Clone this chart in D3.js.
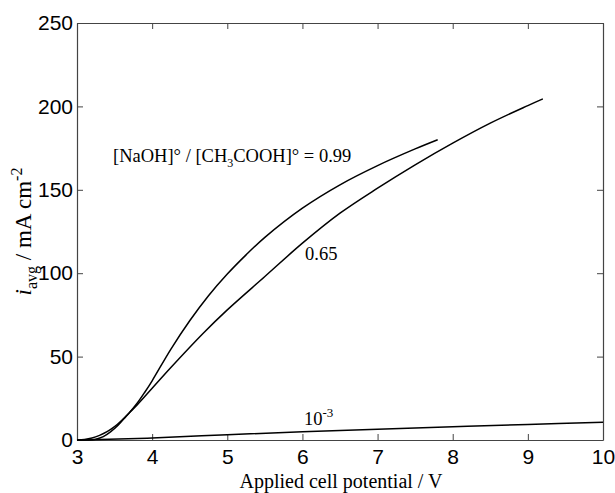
<!DOCTYPE html>
<html>
<head>
<meta charset="utf-8">
<script src="https://cdn.jsdelivr.net/npm/d3@7"></script>
<style>
  body { margin: 0; background: #fff; }
  svg { display: block; }
</style>
</head>
<body>
<svg id="chart" width="615" height="493"></svg>
<script>
// ratio 0.99
const v099 = [3.0, 3.15, 3.25, 3.35, 3.45, 3.55, 3.65, 3.7, 3.8, 3.9, 4.0, 4.25, 4.5, 4.75, 5.0, 5.25, 5.5, 6.0, 6.5, 7.0, 7.5, 7.8];
const i099 = [0, 0, 0.5, 2, 5, 9, 14, 16.5, 22, 28.5, 35.5, 54.5, 71.5, 86.5, 99.5, 111, 121.5, 139, 153, 164.5, 174.5, 180];

// ratio 0.65
const v065 = [3.0, 3.1, 3.2, 3.3, 3.4, 3.5, 3.6, 3.7, 3.8, 4.0, 4.24, 4.68, 5.0, 5.5, 6.0, 6.5, 7.0, 7.5, 8.0, 8.5, 9.0, 9.2];
const i065 = [0, 0.3, 1.2, 2.8, 5, 8, 12, 16.5, 21, 31, 43, 64, 78, 98, 118, 136, 151, 165, 178, 190, 200.5, 204.5];

// ratio 1e-3
const v1e3 = [3.0, 3.3, 4.0, 5.0, 6.0, 7.0, 8.0, 9.0, 10.0];
const i1e3 = [0, 0.3, 1.2, 3.2, 4.9, 6.4, 7.9, 9.3, 10.7];

const xTicks = [3, 4, 5, 6, 7, 8, 9, 10];
const yTicks = [0, 50, 100, 150, 200, 250];

const svg = d3.select("#chart");
const m = { left: 77, right: 603, top: 23, bottom: 440 };

const x = d3.scaleLinear().domain([3, 10]).range([m.left, m.right]);
const y = d3.scaleLinear().domain([0, 250]).range([m.bottom, m.top]);

const tickFont = "'Liberation Sans', Arial, sans-serif";
const serif = "'Liberation Serif', 'Times New Roman', serif";

// axes, ticks point inward on all four sides
const axB = svg.append("g").attr("transform", `translate(0,${m.bottom})`)
  .call(d3.axisBottom(x).tickValues(xTicks).tickFormat(d3.format("d")).tickSize(-6).tickPadding(9).tickSizeOuter(0));
const axT = svg.append("g").attr("transform", `translate(0,${m.top})`)
  .call(d3.axisTop(x).tickValues(xTicks).tickSize(-6).tickFormat("").tickSizeOuter(0));
const axL = svg.append("g").attr("transform", `translate(${m.left},0)`)
  .call(d3.axisLeft(y).tickValues(yTicks).tickSize(-6).tickPadding(4).tickSizeOuter(0));
const axR = svg.append("g").attr("transform", `translate(${m.right},0)`)
  .call(d3.axisRight(y).tickValues(yTicks).tickSize(-6).tickFormat("").tickSizeOuter(0));

[axB, axT, axL, axR].forEach(a => {
  a.selectAll(".domain").attr("stroke", "#444").attr("stroke-width", 1.2);
  a.selectAll(".tick line").attr("stroke", "#444").attr("stroke-width", 1);
  a.selectAll(".tick text").attr("fill", "#000").style("font-family", tickFont).style("font-size", "21px");
});

// curves
const line = d3.line().x(d => x(d[0])).y(d => y(d[1])).curve(d3.curveCatmullRom.alpha(0.5));
const series = [
  d3.zip(v099, i099),
  d3.zip(v065, i065),
  d3.zip(v1e3, i1e3)
];
svg.append("g").selectAll("path")
  .data(series)
  .join("path")
  .attr("d", line)
  .attr("fill", "none")
  .attr("stroke", "#000")
  .attr("stroke-width", 1.5);

// curve labels
const lab = svg.append("g").style("font-family", serif).style("font-size", "18.5px").attr("fill", "#000");
const t1 = lab.append("text").attr("x", 113).attr("y", 162);
t1.append("tspan").text("[NaOH]° / [CH");
t1.append("tspan").attr("dy", 5).style("font-size", "12px").text("3");
t1.append("tspan").attr("dy", -5).text("COOH]° = 0.99");

lab.append("text").attr("x", 305).attr("y", 260).text("0.65");

const t3 = lab.append("text").attr("x", 304).attr("y", 425);
t3.append("tspan").text("10");
t3.append("tspan").attr("dy", -8).style("font-size", "13px").text("-3");

// axis titles
svg.append("text")
  .attr("x", 341).attr("y", 488)
  .attr("text-anchor", "middle")
  .style("font-family", serif).style("font-size", "20px")
  .text("Applied cell potential / V");

const yt = svg.append("text")
  .attr("transform", `translate(31,${(m.top + m.bottom) / 2}) rotate(-90)`)
  .attr("text-anchor", "middle")
  .style("font-family", serif).style("font-size", "23px");
yt.append("tspan").style("font-style", "italic").text("i");
yt.append("tspan").attr("dy", 6).style("font-size", "16px").text("avg");
yt.append("tspan").attr("dy", -6).text(" / mA cm");
yt.append("tspan").attr("dy", -9).style("font-size", "16px").text("-2");
</script>
</body>
</html>
